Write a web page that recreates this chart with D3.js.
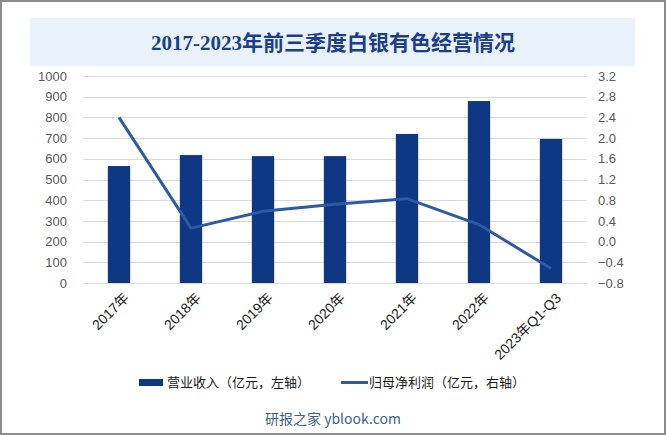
<!DOCTYPE html>
<html>
<head>
<meta charset="utf-8">
<script src="https://cdn.jsdelivr.net/npm/d3@7"></script>
<style>
  body { margin: 0; background: #fff; }
  svg { display: block; }
</style>
</head>
<body>
<div id="app"></div>
<script>
const categories = ['2017年', '2018年', '2019年', '2020年', '2021年', '2022年', '2023年Q1-Q3']
const revenue = [565, 618, 613, 613, 720, 879, 696]
const profit = [2.40, 0.26, 0.585, 0.72, 0.83, 0.33, -0.52]
const leftTicks = [0, 100, 200, 300, 400, 500, 600, 700, 800, 900, 1000]
const rightTicks = [-0.8, -0.4, 0, 0.4, 0.8, 1.2, 1.6, 2.0, 2.4, 2.8, 3.2]

const W = 666, H = 435
const m = { top: 76, right: 79, bottom: 152, left: 83 }

const svg = d3.select('#app').append('svg')
  .attr('width', W)
  .attr('height', H)

// frame
svg.append('rect')
  .attr('x', 1).attr('y', 1)
  .attr('width', W - 2).attr('height', H - 2)
  .attr('fill', '#fff')
  .attr('stroke', '#8c8c8c')
  .attr('stroke-width', 2)

// title
svg.append('rect')
  .attr('x', 30).attr('y', 18)
  .attr('width', 605).attr('height', 48)
  .attr('fill', '#e9f1fb')
svg.append('text')
  .attr('x', 333).attr('y', 50)
  .attr('text-anchor', 'middle')
  .attr('font-family', '"Liberation Serif", "Noto Sans CJK SC", serif')
  .attr('font-weight', 'bold')
  .attr('font-size', 21)
  .attr('fill', '#1b3f8b')
  .text('2017-2023年前三季度白银有色经营情况')

const x = d3.scaleBand()
  .domain(categories)
  .range([m.left, W - m.right])
  .paddingInner(0.69)
  .paddingOuter(0.345)

const yL = d3.scaleLinear().domain([0, 1000]).range([H - m.bottom, m.top])
const yR = d3.scaleLinear().domain([-0.8, 3.2]).range([H - m.bottom, m.top])

// grid
svg.append('g')
  .selectAll('line')
  .data(leftTicks)
  .join('line')
  .attr('x1', m.left).attr('x2', W - m.right)
  .attr('y1', d => Math.round(yL(d)) + 0.5)
  .attr('y2', d => Math.round(yL(d)) + 0.5)
  .attr('stroke', '#d9d9d9')
  .attr('stroke-width', 1)

// left axis
const axL = svg.append('g')
  .attr('transform', `translate(${m.left},0)`)
  .call(d3.axisLeft(yL).tickValues(leftTicks).tickSize(0).tickPadding(16).tickFormat(d3.format('d')))
axL.select('.domain').remove()
axL.selectAll('text')
  .attr('font-family', 'Arial, "Liberation Sans", sans-serif')
  .attr('font-size', 13)
  .attr('fill', '#595959')

// right axis
const axR = svg.append('g')
  .attr('transform', `translate(${W - m.right},0)`)
  .call(d3.axisRight(yR).tickValues(rightTicks).tickSize(0).tickPadding(11).tickFormat(d3.format('.1f')))
axR.select('.domain').remove()
axR.selectAll('text')
  .attr('font-family', 'Arial, "Liberation Sans", sans-serif')
  .attr('font-size', 13)
  .attr('fill', '#595959')

// bars
svg.append('g')
  .selectAll('rect')
  .data(revenue)
  .join('rect')
  .attr('x', (d, i) => x(categories[i]))
  .attr('width', x.bandwidth())
  .attr('y', d => yL(d))
  .attr('height', d => yL(0) - yL(d))
  .attr('fill', '#0e3883')

// line
const line = d3.line()
  .x((d, i) => x(categories[i]) + x.bandwidth() / 2)
  .y(d => yR(d))
svg.append('path')
  .datum(profit)
  .attr('d', line)
  .attr('fill', 'none')
  .attr('stroke', '#2f59a6')
  .attr('stroke-width', 3)

// x labels
svg.append('g')
  .selectAll('text')
  .data(categories)
  .join('text')
  .attr('transform', d => `translate(${x(d) + x.bandwidth() / 2 + 4},${H - m.bottom + 9}) rotate(-45)`)
  .attr('text-anchor', 'end')
  .attr('dy', '0.7em')
  .attr('font-family', 'Arial, "Liberation Sans", "Noto Sans CJK SC", sans-serif')
  .attr('font-size', 14)
  .attr('fill', '#1a1a1a')
  .text(d => d)

// legend
const lg = svg.append('g').attr('font-family', '"Noto Sans CJK SC", sans-serif').attr('font-size', 13).attr('fill', '#1a1a1a')
lg.append('rect').attr('x', 139).attr('y', 379).attr('width', 24).attr('height', 7).attr('fill', '#0e3883')
lg.append('text').attr('x', 167).attr('y', 387).text('营业收入（亿元，左轴）')
lg.append('line').attr('x1', 341).attr('x2', 368).attr('y1', 382.5).attr('y2', 382.5).attr('stroke', '#2f59a6').attr('stroke-width', 3)
lg.append('text').attr('x', 369).attr('y', 387).text('归母净利润（亿元，右轴）')

// footer
svg.append('text')
  .attr('x', 333).attr('y', 424)
  .attr('text-anchor', 'middle')
  .attr('font-family', '"Noto Sans CJK SC", sans-serif')
  .attr('font-size', 14)
  .attr('fill', '#3c5f8f')
  .text('研报之家 yblook.com')
</script>
</body>
</html>
